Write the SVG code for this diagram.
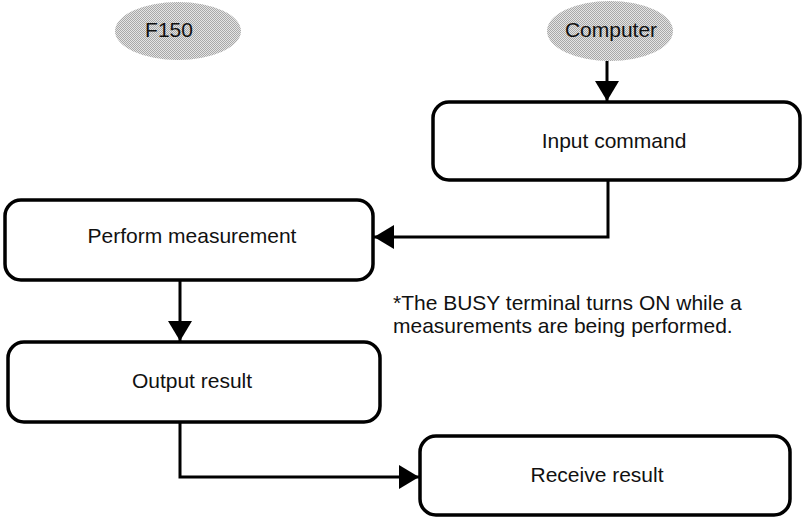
<svg xmlns="http://www.w3.org/2000/svg" width="804" height="519" viewBox="0 0 804 519">
<style>
text{font-family:"Liberation Sans",Arial,sans-serif;font-size:21px;fill:#111}
.box{fill:#fff;stroke:#000;stroke-width:3.5}
.term{fill:url(#dots);stroke:none}
.conn{fill:none;stroke:#000;stroke-width:3}
</style>
<defs>
<pattern id="dots" width="2" height="2" patternUnits="userSpaceOnUse">
<rect width="2" height="2" fill="#e4e4e4"/>
<rect width="1" height="1" fill="#a8a8a8"/>
<rect x="1" y="1" width="1" height="1" fill="#a8a8a8"/>
</pattern>
<marker id="arr" viewBox="0 0 20 24" refX="20" refY="12" markerWidth="20" markerHeight="24" markerUnits="userSpaceOnUse" orient="auto">
<path d="M0,0 L20,12 L0,24 z" fill="#000"/>
</marker>
</defs>
<g id="f150">
<ellipse class="term" cx="178" cy="31" rx="63" ry="29"/>
<text x="169" y="37" text-anchor="middle">F150</text>
</g>
<g id="computer">
<ellipse class="term" cx="610" cy="31" rx="63" ry="30"/>
<text x="611" y="37" text-anchor="middle">Computer</text>
</g>
<g id="input">
<rect class="box" x="433" y="102" width="367" height="78" rx="16"/>
<text x="614" y="148" text-anchor="middle">Input command</text>
</g>
<g id="perform">
<rect class="box" x="5" y="200" width="368" height="80" rx="16"/>
<text x="192" y="243" text-anchor="middle">Perform measurement</text>
</g>
<g id="output">
<rect class="box" x="8" y="342" width="372" height="80" rx="16"/>
<text x="192" y="388" text-anchor="middle">Output result</text>
</g>
<g id="receive">
<rect class="box" x="420" y="436" width="370" height="79" rx="16"/>
<text x="597" y="482" text-anchor="middle">Receive result</text>
</g>
<g id="note">
<text x="393" y="310">*The BUSY terminal turns ON while a</text>
<text x="393" y="333">measurements are being performed.</text>
</g>
<g id="connectors">
<path class="conn" d="M607,61 L607,101" marker-end="url(#arr)"/>
<path class="conn" d="M608,180 L608,237 L374,237" marker-end="url(#arr)"/>
<path class="conn" d="M180,280 L180,341" marker-end="url(#arr)"/>
<path class="conn" d="M180,422 L180,477 L419,477" marker-end="url(#arr)"/>
</g>
</svg>
